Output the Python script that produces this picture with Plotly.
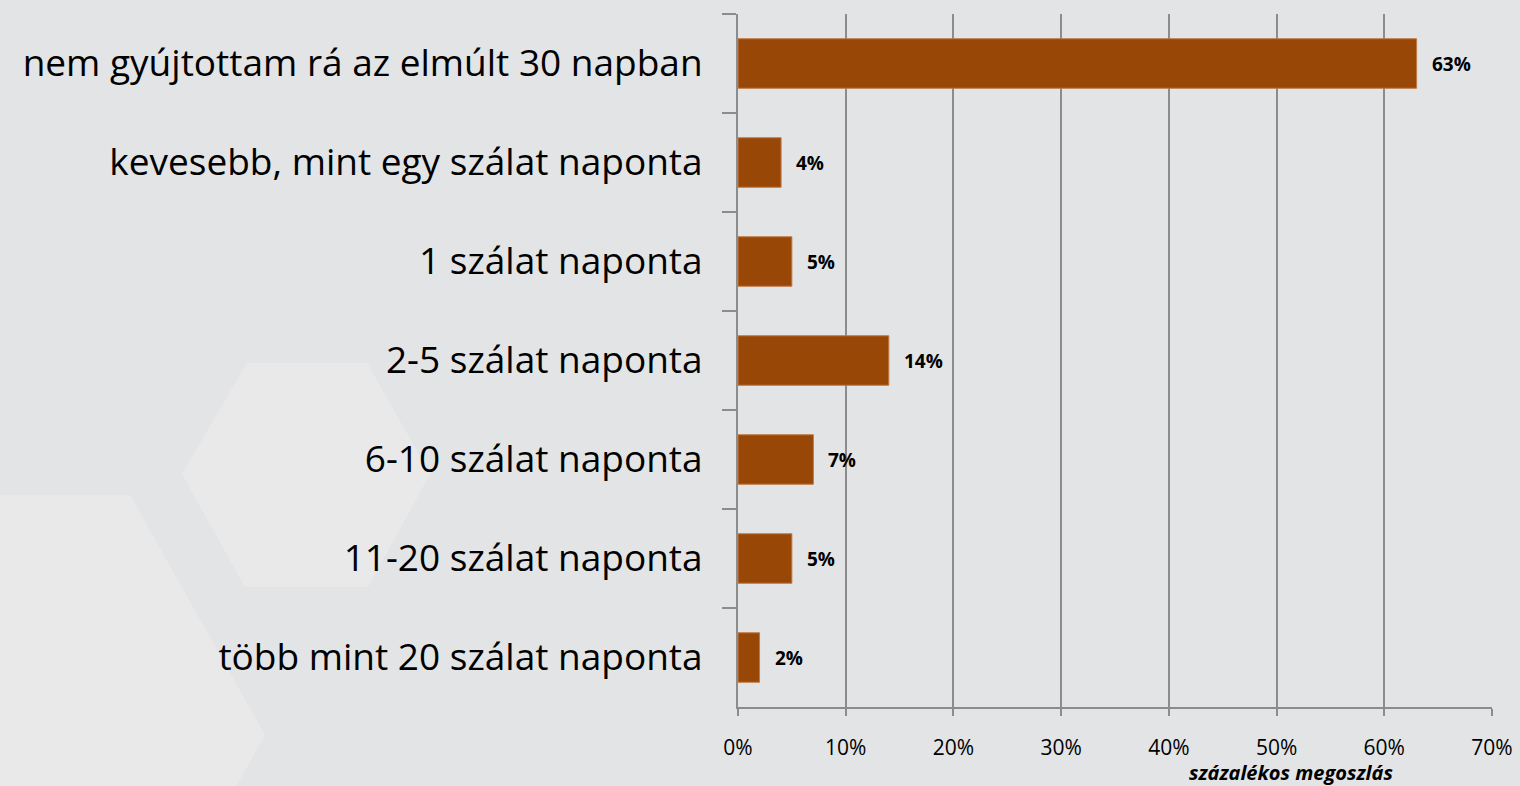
import plotly.graph_objects as go

categories = [
    "nem gyújtottam rá az elmúlt 30 napban",
    "kevesebb, mint egy szálat naponta",
    "1 szálat naponta",
    "2-5 szálat naponta",
    "6-10 szálat naponta",
    "11-20 szálat naponta",
    "több mint 20 szálat naponta",
]
values = [63, 4, 5, 14, 7, 5, 2]
x_ticks = [0, 10, 20, 30, 40, 50, 60, 70]
x_tick_labels = ["0%", "10%", "20%", "30%", "40%", "50%", "60%", "70%"]
x_title = "százalékos megoszlás"

W, H = 1520, 786
L, R, T, B = 738, 28, 14, 79
FONT = "Open Sans"


def px_to_paper(x, y):
    # pixel position on the page -> paper coords of the plot area
    return (x - L) / (W - L - R), 1 - (y - T) / (H - T - B)


def hex_path(points):
    pts = [px_to_paper(x, y) for x, y in points]
    return "M " + " L ".join(f"{a:.4f},{b:.4f}" for a, b in pts) + " Z"


fig = go.Figure()

fig.add_trace(go.Bar(
    x=values,
    y=categories,
    orientation="h",
    marker=dict(color="#994706", line=dict(color="#c07a45", width=1)),
    width=0.5,
    hoverinfo="skip",
))

# background hexagons (decorative)
hexes = [
    [(247, 363), (367, 363), (430, 474), (368, 587), (245, 587), (182, 474)],
    [(-140, 495), (130, 495), (265, 735), (130, 975), (-140, 975), (-275, 735)],
]
for pts in hexes:
    fig.add_shape(type="path", path=hex_path(pts), xref="paper", yref="paper",
                  fillcolor="#e9e9ea", line=dict(width=0), layer="below")

# data labels
for cat, v in zip(categories, values):
    fig.add_annotation(x=v, y=cat, text=f"<b>{v}%</b>", showarrow=False,
                       xanchor="left", xshift=13,
                       font=dict(family=FONT, size=19, color="#000000"))

ax, ay = px_to_paper(1291, 772)
fig.add_annotation(x=ax, y=ay, xref="paper", yref="paper", text=f"<b><i>{x_title}</i></b>",
                   showarrow=False, xanchor="center", yanchor="middle",
                   font=dict(family=FONT, size=20, color="#000000"))

fig.update_layout(
    width=W, height=H,
    margin=dict(l=L, r=R, t=T, b=B, pad=0),
    paper_bgcolor="#e3e4e6",
    plot_bgcolor="rgba(0,0,0,0)",
    showlegend=False,
    bargap=0.5,
)

fig.update_xaxes(
    range=[0, 70],
    tickvals=x_ticks,
    ticktext=x_tick_labels,
    showgrid=True, gridcolor="#8c8c8c", gridwidth=1.5,
    showline=True, linecolor="#8c8c8c", linewidth=2,
    ticks="outside", ticklen=7, tickcolor="#8c8c8c", tickwidth=1.5,
    ticklabelstandoff=14,
    tickfont=dict(family=FONT, size=21, color="#000000"),
    zeroline=False, fixedrange=True, automargin=False,
)

fig.update_yaxes(
    autorange="reversed",
    categoryorder="array", categoryarray=categories,
    tickson="boundaries",
    showgrid=False,
    showline=True, linecolor="#8c8c8c", linewidth=2,
    ticks="outside", ticklen=14, tickcolor="#8c8c8c", tickwidth=1.5,
    ticklabelstandoff=26,
    tickfont=dict(family=FONT, size=37, color="#000000"),
    fixedrange=True, automargin=False,
)

fig.write_html("out.html", config={"displayModeBar": False},
               post_script="document.body.style.margin='0';")
